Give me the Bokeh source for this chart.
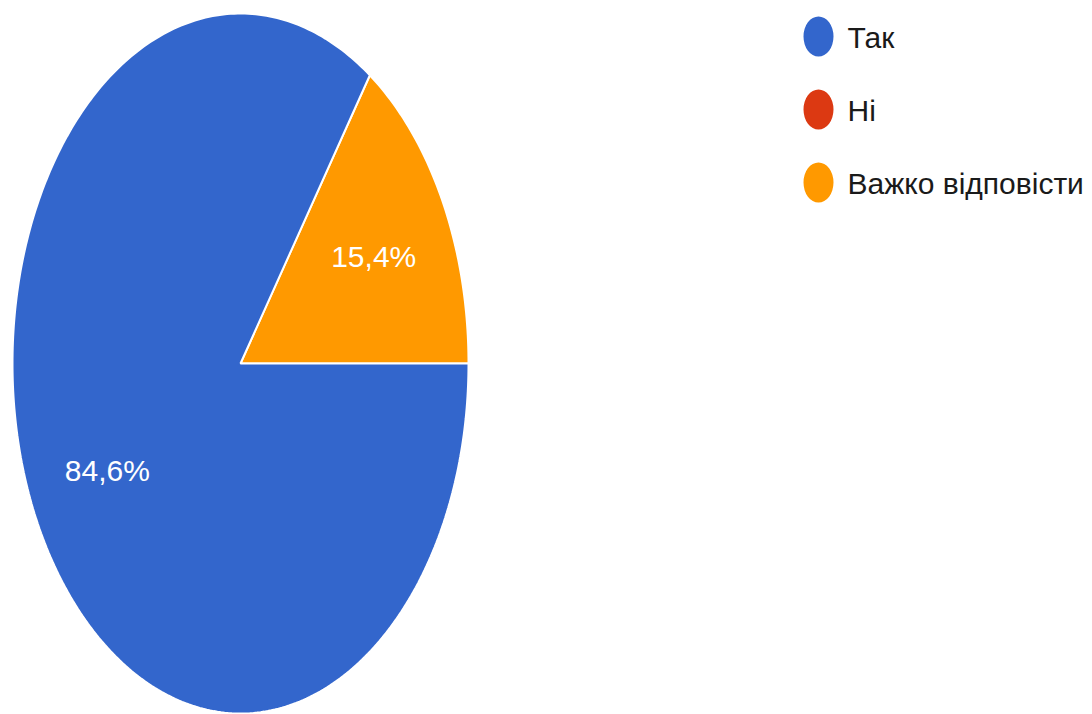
import numpy as np
from bokeh.plotting import figure
from bokeh.models import Range1d
from bokeh.core.properties import value
from bokeh.embed import file_html
from bokeh.resources import INLINE

# ---- data ----
categories = ["Так", "Ні", "Важко відповісти"]
shares = [84.6, 0.0, 15.4]
colors = ["#3366CC", "#DC3912", "#FF9900"]
pct_labels = ["84,6%", "", "15,4%"]

# ---- layout (pixels) ----
W, H = 1092, 714
RX, RY = 228.0, 350.0          # pie radii in px (stretched)
CX, CY = 240.0, 363.0          # pie centre in px from figure top-left

x0 = -CX / RX
x1 = (W - CX) / RX
y1 = CY / RY
y0 = -(H - CY) / RY

def dx(px):
    return x0 + px / RX

def dy(py):
    return y1 - py / RY

p = figure(width=W, height=H, output_backend="svg", toolbar_location=None,
           x_range=Range1d(x0, x1), y_range=Range1d(y0, y1),
           min_border=0, background_fill_color="white", border_fill_color="white")
p.axis.visible = False
p.grid.visible = False
p.outline_line_color = None

# slices: orange starts at 3 o'clock going counter-clockwise, blue follows
order = [2, 1, 0]
start = 0.0
xs, ys, fills, lx, ly, lt = [], [], [], [], [], []
for i in order:
    frac = shares[i] / 100.0
    if frac <= 0:
        continue
    a0 = start
    a1 = start + frac * 2 * np.pi
    t = np.linspace(a0, a1, max(8, int(400 * frac)))
    xs.append(np.concatenate([[0.0], np.cos(t), [0.0]]))
    ys.append(np.concatenate([[0.0], np.sin(t), [0.0]]))
    fills.append(colors[i])
    mid = (a0 + a1) / 2
    lx.append(0.66 * np.cos(mid))
    ly.append(0.66 * np.sin(mid))
    lt.append(pct_labels[i])
    start = a1

p.patches(xs=xs, ys=ys, fill_color=fills, line_color="white", line_width=2)
p.text(x=lx, y=ly, text=lt, text_color="white", text_font=value("Liberation Sans"),
       text_font_size="30px", text_align="center", text_baseline="middle")

# legend
leg_px_x, leg_txt_px_x = 818, 847
leg_py = [36, 109, 182]
p.ellipse(x=[dx(leg_px_x)] * 3, y=[dy(v) for v in leg_py], width=30, height=40,
          width_units="screen", height_units="screen", fill_color=colors, line_color=None)
p.text(x=[dx(leg_txt_px_x)] * 3, y=[dy(v + 1) for v in leg_py], text=categories,
       text_color="#1a1a1a", text_font=value("Liberation Sans"), text_font_size="30px",
       text_align="left", text_baseline="middle")

open("out.html", "w").write(file_html(p, INLINE))
